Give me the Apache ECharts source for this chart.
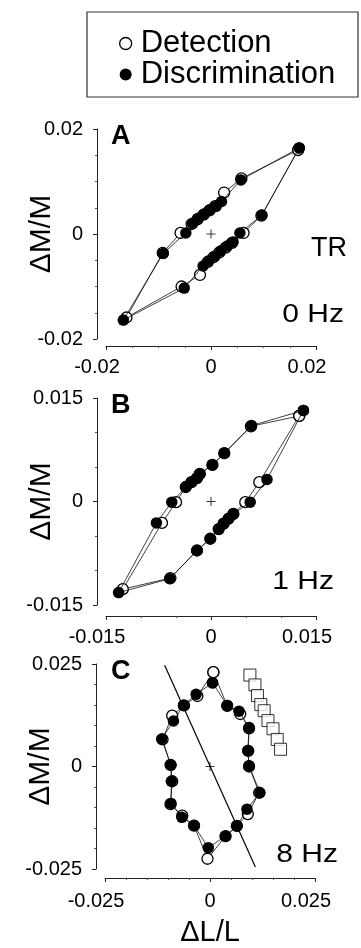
<!DOCTYPE html>
<html>
<head>
<meta charset="utf-8">
<script src="https://cdn.jsdelivr.net/npm/echarts@6/dist/echarts.min.js"></script>
<style>
html,body{margin:0;padding:0;background:#fff;}
#chart{width:361px;height:948px;}
</style>
</head>
<body>
<div id="chart"></div>
<script>
// ---------- data ----------
const legendNames = ['Detection', 'Discrimination'];
const panelLetters = ['A', 'B', 'C'];
const panelNotes = ['0 Hz', '1 Hz', '8 Hz'];
const observer = 'TR';
const axisRanges = [[-0.02, 0.02], [-0.015, 0.015], [-0.025, 0.025]];
const axisSteps = [0.02, 0.015, 0.025];
const minorSplits = [4, 3, 5];
const yTitle = 'ΔM/M';
const xTitle = 'ΔL/L';
const origin = [[0, 0]];

const detA = [[0.0166,0.0160],[0.0096,0.0035],[0.0062,0.0002],[0.0040,-0.0017],[0.0028,-0.0026],[0.0016,-0.0035],[0.0005,-0.0044],[-0.0006,-0.0053],[-0.0021,-0.0078],[-0.0056,-0.0100],[-0.0161,-0.0159],[-0.0092,-0.0036],[-0.0058,0.0002],[-0.0037,0.0019],[-0.0026,0.0028],[-0.0014,0.0037],[-0.0003,0.0045],[0.0008,0.0053],[0.0025,0.0079],[0.0058,0.0106]];
const discA = [[0.0168,0.0164],[0.0097,0.0036],[0.0055,0.0002],[0.0042,-0.0015],[0.0031,-0.0023],[0.0019,-0.0032],[0.0008,-0.0042],[-0.0004,-0.0051],[-0.0015,-0.0061],[-0.0051,-0.0103],[-0.0167,-0.0164],[-0.0091,-0.0037],[-0.0048,0.0002],[-0.0035,0.0020],[-0.0024,0.0030],[-0.0013,0.0038],[-0.0002,0.0046],[0.0010,0.0053],[0.0020,0.0062],[0.0057,0.0103]];

const detB = [[0.0126,0.0124],[0.0069,0.0028],[0.0049,-0.0001],[0.0032,-0.0018],[0.0025,-0.0025],[0.0018,-0.0032],[0.0011,-0.0040],[-0.0001,-0.0054],[-0.0020,-0.0071],[-0.0058,-0.0111],[-0.0126,-0.0127],[-0.0070,-0.0031],[-0.0050,-0.0001],[-0.0036,0.0021],[-0.0028,0.0028],[-0.0020,0.0034],[-0.0016,0.0040],[0.0002,0.0053],[0.0019,0.0070],[0.0057,0.0109]];
const discB = [[0.0132,0.0132],[0.0080,0.0032],[0.0056,-0.0001],[0.0032,-0.0018],[0.0025,-0.0025],[0.0018,-0.0032],[0.0011,-0.0040],[-0.0001,-0.0054],[-0.0020,-0.0071],[-0.0059,-0.0112],[-0.0132,-0.0132],[-0.0078,-0.0031],[-0.0056,-0.0001],[-0.0036,0.0021],[-0.0028,0.0028],[-0.0020,0.0034],[-0.0016,0.0040],[0.0002,0.0053],[0.0019,0.0070],[0.0058,0.0110]];

const detC = [[0.0008,0.0230],[0.0041,0.0148],[0.0072,0.0128],[0.0093,0.0093],[0.0091,0.0038],[0.0093,0.0000],[0.0117,-0.0064],[0.0090,-0.0116],[0.0064,-0.0145],[0.0037,-0.0170],[-0.0006,-0.0225],[-0.0038,-0.0144],[-0.0066,-0.0120],[-0.0094,-0.0092],[-0.0090,-0.0036],[-0.0094,0.0004],[-0.0113,0.0066],[-0.0090,0.0124],[-0.0062,0.0149],[-0.0030,0.0172]];
const discC = [[0.0006,0.0204],[0.0041,0.0149],[0.0069,0.0135],[0.0093,0.0095],[0.0090,0.0039],[0.0093,0.0002],[0.0119,-0.0064],[0.0088,-0.0104],[0.0064,-0.0145],[0.0037,-0.0170],[-0.0004,-0.0198],[-0.0038,-0.0144],[-0.0067,-0.0124],[-0.0093,-0.0090],[-0.0092,-0.0036],[-0.0093,0.0003],[-0.0115,0.0067],[-0.0087,0.0111],[-0.0063,0.0149],[-0.0033,0.0176]];
const squaresC = [[0.0095,0.0223],[0.0107,0.0199],[0.0113,0.0173],[0.0121,0.0151],[0.0129,0.0136],[0.0138,0.0112],[0.0150,0.0092],[0.0160,0.0066],[0.0168,0.0042]];
const lineC = [[-0.0108,0.0247],[0.0108,-0.0245]];

const detSets = [detA, detB, detC];
const discSets = [discA, discB, discC];

// ---------- layout ----------
const FONT = "'Liberation Sans', Arial, Helvetica, sans-serif";
const grids = [
  {left:106, top:129, width:210, height:210},
  {left:106, top:398, width:210, height:207},
  {left:105, top:664, width:210, height:209}
];
const xOffsets = [7, 11, 9];
const xLabelMargins = [11, 11, 13];

function fmt(v){ return String(Number(v.toPrecision(6))); }
function closeLoop(a){ return a.concat([a[0]]); }

const xAxes = [], yAxes = [], series = [];
for (let i = 0; i < 3; i++) {
  const r = axisRanges[i], st = axisSteps[i];
  xAxes.push({
    type:'value', gridIndex:i, min:r[0], max:r[1], interval:st, offset:xOffsets[i],
    axisLine:{show:true, onZero:false, lineStyle:{color:'#222', width:1}},
    axisTick:{show:true, inside:false, length:4, lineStyle:{color:'#222', width:1}},
    minorTick:{show:true, splitNumber:minorSplits[i], length:2, lineStyle:{color:'#555', width:1}},
    splitLine:{show:false},
    axisLabel:{
      margin:xLabelMargins[i], color:'#000', fontFamily:FONT, fontSize:20,
      formatter:function(v){ const s = fmt(v); return v === 0 ? '{c|' + s + '}' : '{o|' + s + '}'; },
      rich:{
        o:{fontFamily:FONT, fontSize:20, color:'#000', padding:[0,18,0,0]},
        c:{fontFamily:FONT, fontSize:20, color:'#000'}
      }
    },
    name: i === 2 ? xTitle : '', nameLocation:'middle', nameGap:40, nameMoveOverlap:false,
    nameTextStyle:{fontFamily:FONT, fontSize:29, color:'#000'}
  });
  yAxes.push({
    type:'value', gridIndex:i, min:r[0], max:r[1], interval:st, offset:9,
    axisLine:{show:true, onZero:false, lineStyle:{color:'#222', width:1}},
    axisTick:{show:true, inside:false, length:4, lineStyle:{color:'#222', width:1}},
    minorTick:{show:true, splitNumber:minorSplits[i], length:2, lineStyle:{color:'#555', width:1}},
    splitLine:{show:false},
    axisLabel:{margin:14, color:'#000', fontFamily:FONT, fontSize:20, formatter:function(v){ return fmt(v); }},
    name:yTitle, nameLocation:'middle', nameRotate:90, nameGap:40, nameMoveOverlap:false,
    nameTextStyle:{fontFamily:FONT, fontSize:30, color:'#000'}
  });
  series.push({
    name:legendNames[0], type:'line', xAxisIndex:i, yAxisIndex:i,
    data:closeLoop(detSets[i]), symbol:'circle', symbolSize:11, z:3,
    itemStyle:{color:'#fff', borderColor:'#000', borderWidth:1.3},
    lineStyle:{color:'#111', width:0.8}, animation:false
  });
  series.push({
    name:legendNames[1], type:'line', xAxisIndex:i, yAxisIndex:i,
    data:closeLoop(discSets[i]), symbol:'circle', symbolSize:11.5, z:4,
    itemStyle:{color:'#000', borderColor:'#000', borderWidth:0},
    lineStyle:{color:'#111', width:0.8}, animation:false
  });
  series.push({
    name:'origin', type:'scatter', xAxisIndex:i, yAxisIndex:i, data:origin,
    symbol:'path://M0,4H9V5H0ZM4,0H5V9H4Z', symbolSize:9, z:2,
    itemStyle:{color:'#000'}, animation:false, silent:true
  });
}
series.push({
  name:'axis', type:'line', xAxisIndex:2, yAxisIndex:2, data:lineC, symbol:'none', z:1,
  lineStyle:{color:'#000', width:1.2}, animation:false, silent:true
});
series.push({
  name:'squares', type:'scatter', xAxisIndex:2, yAxisIndex:2, data:squaresC,
  symbol:'rect', symbolSize:12, z:2,
  itemStyle:{color:'#fff', borderColor:'#000', borderWidth:1}, animation:false
});

const graphics = [
  {type:'rect', shape:{x:87, y:12, width:271, height:85}, style:{fill:'none', stroke:'#333', lineWidth:1.2}, silent:true}
];
const letterY = [137, 405.5, 672];
for (let i = 0; i < 3; i++) {
  graphics.push({type:'text', x:111, y:letterY[i], style:{text:panelLetters[i], fontFamily:FONT, fontWeight:'bold', fontSize:27, fill:'#000', align:'left', verticalAlign:'middle'}});
}
const noteX = [344, 334, 338], noteY = [315, 582, 855];
for (let i = 0; i < 3; i++) {
  graphics.push({type:'text', x:noteX[i], y:noteY[i], scaleX:1.2, style:{text:panelNotes[i], fontFamily:FONT, fontSize:25, fill:'#000', align:'right', verticalAlign:'middle'}});
}
graphics.push({type:'text', x:347, y:249, style:{text:observer, fontFamily:FONT, fontSize:27, fill:'#000', align:'right', verticalAlign:'middle'}});

const chart = echarts.init(document.getElementById('chart'), null, {renderer:'canvas'});
chart.setOption({
  animation:false,
  backgroundColor:'#fff',
  grid:grids,
  xAxis:xAxes,
  yAxis:yAxes,
  legend:{
    left:119, top:28, orient:'vertical', itemWidth:12, itemHeight:12, itemGap:0, padding:0,
    selectedMode:false,
    textStyle:{fontFamily:FONT, fontSize:31, color:'#000', padding:[0,0,0,4]},
    data:[
      {name:legendNames[0], icon:'circle', itemStyle:{color:'#fff', borderColor:'#000', borderWidth:1.3}},
      {name:legendNames[1], icon:'circle', itemStyle:{color:'#000', borderWidth:0}}
    ]
  },
  graphic:graphics,
  series:series
});
</script>
</body>
</html>
